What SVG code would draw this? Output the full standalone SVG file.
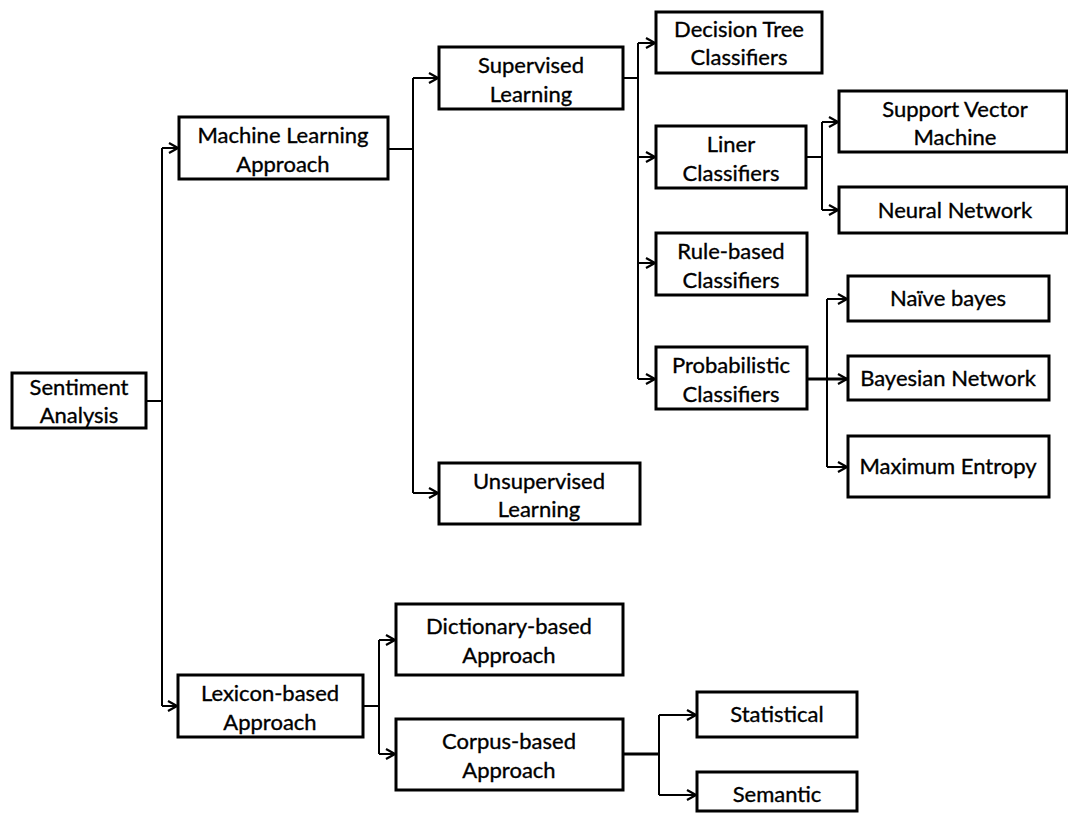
<svg xmlns="http://www.w3.org/2000/svg" width="1068" height="813" viewBox="0 0 1068 813">
  <defs>
    <style>
      .box { fill: #ffffff; stroke: #000000; stroke-width: 3; }
      .lbl { font-family: Lato, "Open Sans", "Liberation Sans", sans-serif; font-size: 22px; fill: #000000; stroke: #000000; stroke-width: 0.35; text-anchor: middle; }
      .wire { fill: none; stroke: #000000; stroke-width: 2; }
      .thick { stroke-width: 3; }
    </style>
    <marker id="arrow" viewBox="0 0 12 12" refX="11" refY="6" markerWidth="12" markerHeight="12" markerUnits="userSpaceOnUse" orient="auto">
      <path d="M2,1 L11,6 L2,11" fill="none" stroke="#000000" stroke-width="2.2"/>
    </marker>
  </defs>
  <rect width="1068" height="813" fill="#ffffff"/>

  <!-- connectors -->
  <g id="connectors">
    <!-- root to the two approaches -->
    <path class="wire" d="M146,401 H162 M162,148 V706"/>
    <path class="wire" d="M162,148 H178" marker-end="url(#arrow)"/>
    <path class="wire" d="M162,706 H177" marker-end="url(#arrow)"/>
    <!-- machine learning branch -->
    <path class="wire" d="M388,149 H413 M413,78 V493"/>
    <path class="wire" d="M413,78 H438" marker-end="url(#arrow)"/>
    <path class="wire" d="M413,493 H438" marker-end="url(#arrow)"/>
    <!-- supervised learning classifiers -->
    <path class="wire" d="M623,78 H638 M638,43 V379"/>
    <path class="wire" d="M638,43 H655" marker-end="url(#arrow)"/>
    <path class="wire" d="M638,157 H655" marker-end="url(#arrow)"/>
    <path class="wire" d="M638,263 H655" marker-end="url(#arrow)"/>
    <path class="wire" d="M638,379 H655" marker-end="url(#arrow)"/>
    <!-- linear classifiers -->
    <path class="wire" d="M806,157 H822 M822,122 V210"/>
    <path class="wire" d="M822,122 H838" marker-end="url(#arrow)"/>
    <path class="wire" d="M822,210 H838" marker-end="url(#arrow)"/>
    <!-- probabilistic classifiers -->
    <path class="wire thick" d="M807,379 H827"/>
    <path class="wire" d="M827,299 V467"/>
    <path class="wire" d="M827,299 H847" marker-end="url(#arrow)"/>
    <path class="wire thick" d="M827,379 H847" marker-end="url(#arrow)"/>
    <path class="wire" d="M827,467 H847" marker-end="url(#arrow)"/>
    <!-- lexicon branch -->
    <path class="wire" d="M363,706 H379 M379,640 V754"/>
    <path class="wire" d="M379,640 H395" marker-end="url(#arrow)"/>
    <path class="wire" d="M379,754 H395" marker-end="url(#arrow)"/>
    <!-- corpus-based -->
    <path class="wire thick" d="M623,754 H659"/>
    <path class="wire" d="M659,715 V795"/>
    <path class="wire" d="M659,715 H696" marker-end="url(#arrow)"/>
    <path class="wire" d="M659,795 H696" marker-end="url(#arrow)"/>
  </g>

  <!-- nodes -->
  <g id="sentiment-analysis">
    <rect class="box" x="12" y="373" width="134" height="55"/>
    <text class="lbl" x="79" y="395">Sentiment</text>
    <text class="lbl" x="79" y="423">Analysis</text>
  </g>
  <g id="machine-learning">
    <rect class="box" x="179" y="117" width="209" height="62"/>
    <text class="lbl" x="283" y="143">Machine Learning</text>
    <text class="lbl" x="283" y="172">Approach</text>
  </g>
  <g id="supervised">
    <rect class="box" x="439" y="47" width="184" height="62"/>
    <text class="lbl" x="531" y="73">Supervised</text>
    <text class="lbl" x="531" y="102">Learning</text>
  </g>
  <g id="unsupervised">
    <rect class="box" x="439" y="463" width="201" height="61"/>
    <text class="lbl" x="539" y="489">Unsupervised</text>
    <text class="lbl" x="539" y="517">Learning</text>
  </g>
  <g id="decision-tree">
    <rect class="box" x="656" y="12" width="166" height="61"/>
    <text class="lbl" x="739" y="37">Decision Tree</text>
    <text class="lbl" x="739" y="65">Classifiers</text>
  </g>
  <g id="linear">
    <rect class="box" x="656" y="126" width="150" height="62"/>
    <text class="lbl" x="731" y="152">Liner</text>
    <text class="lbl" x="731" y="181">Classifiers</text>
  </g>
  <g id="rule-based">
    <rect class="box" x="656" y="233" width="151" height="62"/>
    <text class="lbl" x="731" y="259">Rule-based</text>
    <text class="lbl" x="731" y="288">Classifiers</text>
  </g>
  <g id="probabilistic">
    <rect class="box" x="656" y="347" width="151" height="62"/>
    <text class="lbl" x="731" y="373">Probabilistic</text>
    <text class="lbl" x="731" y="402">Classifiers</text>
  </g>
  <g id="svm">
    <rect class="box" x="839" y="91" width="228" height="61"/>
    <text class="lbl" x="955" y="117">Support Vector</text>
    <text class="lbl" x="955" y="145">Machine</text>
  </g>
  <g id="neural-network">
    <rect class="box" x="839" y="187" width="228" height="46"/>
    <text class="lbl" x="955" y="218">Neural Network</text>
  </g>
  <g id="naive-bayes">
    <rect class="box" x="848" y="276" width="201" height="45"/>
    <text class="lbl" x="948" y="306">Naïve bayes</text>
  </g>
  <g id="bayesian-network">
    <rect class="box" x="848" y="356" width="201" height="44"/>
    <text class="lbl" x="948" y="386">Bayesian Network</text>
  </g>
  <g id="maximum-entropy">
    <rect class="box" x="848" y="436" width="201" height="61"/>
    <text class="lbl" x="948" y="474">Maximum Entropy</text>
  </g>
  <g id="lexicon-based">
    <rect class="box" x="178" y="675" width="185" height="62"/>
    <text class="lbl" x="270" y="701">Lexicon-based</text>
    <text class="lbl" x="270" y="730">Approach</text>
  </g>
  <g id="dictionary-based">
    <rect class="box" x="396" y="604" width="227" height="71"/>
    <text class="lbl" x="509" y="634">Dictionary-based</text>
    <text class="lbl" x="509" y="663">Approach</text>
  </g>
  <g id="corpus-based">
    <rect class="box" x="396" y="719" width="227" height="71"/>
    <text class="lbl" x="509" y="749">Corpus-based</text>
    <text class="lbl" x="509" y="778">Approach</text>
  </g>
  <g id="statistical">
    <rect class="box" x="697" y="692" width="160" height="45"/>
    <text class="lbl" x="777" y="722">Statistical</text>
  </g>
  <g id="semantic">
    <rect class="box" x="697" y="772" width="160" height="39"/>
    <text class="lbl" x="777" y="802">Semantic</text>
  </g>
</svg>
